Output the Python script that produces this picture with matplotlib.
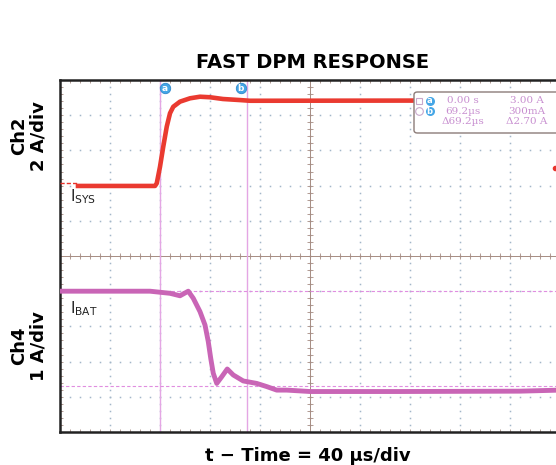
import numpy as np
import matplotlib
matplotlib.use('Agg')
import matplotlib.pyplot as plt
from matplotlib.patches import FancyBboxPatch
from matplotlib.lines import Line2D

plt.rcParams['font.family'] = ['DejaVu Sans']
plt.rcParams['mathtext.default'] = 'regular'

# scope settings
t_div = 40          # us/div
ch2_scale = 2       # A/div
ch4_scale = 1       # A/div
ch2_offset = 1      # div (zero level of Ch2)
ch4_offset = -4     # div (zero level of Ch4)

# Ch2 - I_SYS (time in us, current in A)
isys_t = [-65.6, -4, -2.6, 0, 2.6, 5.4, 8, 10.6, 16, 24, 32, 40, 50.4, 64, 72, 320]
isys_a = [1.98, 1.98, 2.13, 3.07, 4.21, 5.35, 6.11, 6.48, 6.77, 6.96, 7.05, 7.02, 6.92, 6.86, 6.82, 6.84]

# Ch4 - I_BAT
ibat_t = [-80, -8, 8, 16, 22.6, 26.6, 32, 36, 38.6, 40.6, 42.6, 45.4, 49.4, 53.8,
          58.6, 66.6, 77.4, 85.4, 93.4, 101.4, 120, 192, 288, 320]
ibat_a = [3.0, 3.0, 2.94, 2.87, 3.0, 2.80, 2.42, 2.04, 1.57, 1.09, 0.67, 0.38, 0.57, 0.79,
          0.62, 0.45, 0.38, 0.29, 0.19, 0.19, 0.15, 0.15, 0.16, 0.19]

# cursors
cur_t = [0.0, 69.2]
cur_a = [3.00, 0.30]
readout_left = ['0.00 s', '69.2µs', 'Δ69.2µs']
readout_right = ['3.00 A', '300mA', 'Δ2.70 A']

W, H = 556, 465
fig = plt.figure(figsize=(W / 100, H / 100), dpi=100)

def fx(x):
    return x / W

def fy(y):
    return 1 - y / H

ax = fig.add_axes([fx(60), fy(432), 500 / W, 352 / H])
x0, x1 = -80, -80 + 10 * t_div
ax.set_xlim(x0, x1)
ax.set_ylim(-5, 5)
ax.set_xticks([])
ax.set_yticks([])
for s in ax.spines.values():
    s.set_linewidth(1.8)
    s.set_color('#222222')

# dotted graticule
grid_c = '#a3b7c9'
xmaj = np.arange(x0 + t_div, x1, t_div)
ymaj = np.arange(-4, 5, 1)
xmin = np.arange(x0, x1 + 0.1, t_div / 5)
ymin = np.arange(-5, 5.01, 0.2)
for xv in xmaj:
    ax.plot(np.full(len(ymin), xv), ymin, ls='none', marker='s', ms=1.1, mew=0, color=grid_c, zorder=1)
for yv in ymaj:
    ax.plot(xmin, np.full(len(xmin), yv), ls='none', marker='s', ms=1.1, mew=0, color=grid_c, zorder=1)

# center cross and edge ticks
cross_c = '#a68c82'
xc = x0 + 5 * t_div
ax.axvline(xc, color=cross_c, lw=0.7, zorder=1)
ax.axhline(0, color=cross_c, lw=0.7, zorder=1)
ax.plot(np.full(len(ymin), xc), ymin, ls='none', marker='_', ms=4.5, mew=0.6, color=cross_c, zorder=1)
for yv in [0, -5, 5]:
    ax.plot(xmin, np.full(len(xmin), yv), ls='none', marker='|', ms=4.5, mew=0.6, color=cross_c, zorder=1)
ax.plot(np.full(len(ymin), x0), ymin, ls='none', marker='_', ms=4.5, mew=0.6, color=cross_c, zorder=1)

# cursors
cur_c = '#e4a6e4'
for tv in cur_t:
    ax.axvline(tv, color=cur_c, lw=1.0, zorder=2)
for av in cur_a:
    ax.axhline(av / ch4_scale + ch4_offset, color='#e08ee0', lw=0.8, ls=(0, (3, 2)), zorder=2)

# traces
isys_d = np.array(isys_a) / ch2_scale + ch2_offset
ibat_d = np.array(ibat_a) / ch4_scale + ch4_offset
ax.plot([x0, isys_t[0]], [2.07, 2.07], color='#e8332b', lw=1.0, ls=(0, (3, 1.5)), zorder=3)
ax.plot(isys_t, isys_d, color='#ea3a30', lw=3.3, solid_joinstyle='round', zorder=3)
ax.plot(ibat_t, ibat_d, color='#c965b6', lw=3.5, solid_joinstyle='round', zorder=3)
ax.plot([x1 - 4], [2.5], marker='o', ms=3, color='#e8332b', clip_on=False, zorder=3)

# cursor markers at top
for tv, lab in zip([4, 64.6], ['a', 'b']):
    ax.plot([tv], [4.76], marker='o', ms=7.5, color='#45a6e6', mec='#2d88cc', mew=0.6, zorder=5)
    ax.text(tv, 4.76, lab, color='white', fontsize=6.5, fontweight='bold',
            ha='center', va='center', zorder=6)

# trace labels
ax.text(-72, (256 - 201) / 35.2, r'$I_{SYS}$', fontsize=11, color='#222222',
        va='baseline', ha='left', zorder=6)
ax.text(-72, (256 - 313) / 35.2, r'$I_{BAT}$', fontsize=11, color='#222222',
        va='baseline', ha='left', zorder=6)

# readout box
box = FancyBboxPatch((fx(414), fy(133)), fx(560) - fx(414), fy(92) - fy(133),
                     boxstyle='round,pad=0,rounding_size=0.006', transform=fig.transFigure,
                     facecolor='white', edgecolor='#8c7c78', lw=1.0, zorder=10)
fig.patches.append(box)
txt_c = '#c88fd0'
rows = [100.7, 111.3, 121.5]
for i in range(3):
    fig.text(fx(463), fy(rows[i]), readout_left[i], color=txt_c, fontsize=7.5,
             family='DejaVu Serif', ha='center', va='center', zorder=11)
    fig.text(fx(527), fy(rows[i]), readout_right[i], color=txt_c, fontsize=7.5,
             family='DejaVu Serif', ha='center', va='center', zorder=11)
fig.lines.append(Line2D([fx(419)], [fy(rows[0])], marker='s', ms=5, mfc='none', mec='#c8a8cc',
                        mew=0.8, transform=fig.transFigure, zorder=12))
fig.lines.append(Line2D([fx(419)], [fy(rows[1])], marker='o', ms=5.5, mfc='none', mec='#c8a8cc',
                        mew=0.8, transform=fig.transFigure, zorder=12))
for r, lab in zip(rows[:2], ['a', 'b']):
    fig.lines.append(Line2D([fx(429.5)], [fy(r)], marker='o', ms=6.5, mfc='#45a6e6', mec='none',
                            transform=fig.transFigure, zorder=12))
    fig.text(fx(429.5), fy(r), lab, color='white', fontsize=6, fontweight='bold', ha='center',
             va='center', zorder=13)

# titles
fig.text(fx(313), fy(62), 'FAST DPM RESPONSE', fontsize=14, fontweight='bold', ha='center', va='center')
fig.text(fx(308), fy(456), 't − Time = 40 μs/div', fontsize=13, fontweight='bold', ha='center', va='center')
fig.text(fx(29), fy(136), 'Ch2\n2 A/div', fontsize=13, fontweight='bold', rotation=90,
         ha='center', va='center', multialignment='center', linespacing=1.1)
fig.text(fx(29), fy(346), 'Ch4\n1 A/div', fontsize=13, fontweight='bold', rotation=90,
         ha='center', va='center', multialignment='center', linespacing=1.1)

fig.savefig('out.png', dpi=100)
